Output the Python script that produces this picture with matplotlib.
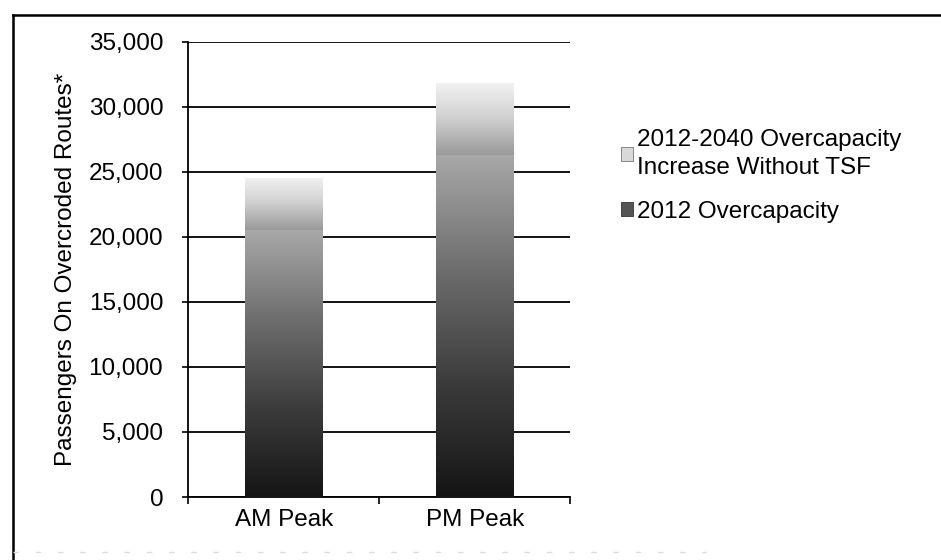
import matplotlib.pyplot as plt
import numpy as np
from matplotlib.colors import LinearSegmentedColormap
from matplotlib.lines import Line2D
from matplotlib.patches import Patch

plt.rcParams["font.family"] = ["Liberation Sans", "DejaVu Sans"]

categories = ["AM Peak", "PM Peak"]
overcapacity_2012 = [20500, 26300]
increase_2040 = [4000, 5500]
series_labels = ["2012-2040 Overcapacity\nIncrease Without TSF", "2012 Overcapacity"]
y_ticks = [0, 5000, 10000, 15000, 20000, 25000, 30000, 35000]

fig = plt.figure(figsize=(9.41, 5.6), dpi=100)
ax = fig.add_axes([0.2, 0.1125, 0.406, 0.813])

x = np.arange(len(categories))
width = 0.405

base_bars = ax.bar(x, overcapacity_2012, width, color="#3a3a3a", zorder=2)
top_bars = ax.bar(x, increase_2040, width, bottom=overcapacity_2012,
                  color="#bdbdbd", zorder=2)

# vertical gradient inside each bar segment, like the scanned original
ramp = np.linspace(0, 1, 256).reshape(-1, 1)
base_cmap = LinearSegmentedColormap.from_list("base", ["#151515", "#3c3c3c", "#6e6e6e", "#a8a8a8"])
top_cmap = LinearSegmentedColormap.from_list("top", ["#9a9a9a", "#cfcfcf", "#f2f2f2"])
for bars, cmap in [(base_bars, base_cmap), (top_bars, top_cmap)]:
    for bar in bars:
        x0, y0 = bar.get_x(), bar.get_y()
        img = ax.imshow(ramp, cmap=cmap, origin="lower", aspect="auto",
                        extent=[x0, x0 + bar.get_width(), y0, y0 + bar.get_height()],
                        zorder=3)
        img.set_clip_path(bar)

ax.set_xlim(-0.5, 1.5)
ax.set_ylim(0, 35000)
ax.set_yticks(y_ticks)
ax.set_yticklabels([f"{t:,}" for t in y_ticks], fontsize=17.5)
ax.set_xticks(x)
ax.set_xticklabels(categories, fontsize=17.5)
ax.set_xticks([-0.5, 0.5, 1.5], minor=True)
ax.tick_params(axis="x", which="major", length=0, pad=9)
ax.tick_params(axis="x", which="minor", length=5, direction="out", width=1.2)
ax.tick_params(axis="y", length=4, direction="out", width=1.2, pad=14)
ax.yaxis.grid(True, color="black", linewidth=1.3)
ax.set_axisbelow(True)
for side in ["top", "right"]:
    ax.spines[side].set_visible(False)
ax.spines["left"].set_linewidth(1.3)
ax.spines["bottom"].set_linewidth(1.3)
ax.set_ylabel("Passengers On Overcroded Routes*", fontsize=17.5, labelpad=8)

handles = [Patch(facecolor="#d8d8d8", edgecolor="#777777", linewidth=0.6),
           Patch(facecolor="#555555", edgecolor="#333333", linewidth=0.6)]
leg = fig.legend(handles, series_labels, loc="upper left", bbox_to_anchor=(0.66, 0.77),
                 frameon=False, fontsize=17.5, handlelength=0.5, handleheight=0.5,
                 handletextpad=0.15, labelspacing=0.9, borderpad=0, borderaxespad=0)
for text in leg.get_texts():
    text.set_linespacing(1.35)

# scanned page border (left and top edges, faint bottom edge)
fig.add_artist(Line2D([0.014, 0.014], [0.0, 0.973], transform=fig.transFigure,
                      color="black", linewidth=1.8))
fig.add_artist(Line2D([0.014, 1.0], [0.973, 0.973], transform=fig.transFigure,
                      color="black", linewidth=1.8))
fig.add_artist(Line2D([0.014, 0.75], [0.015, 0.015], transform=fig.transFigure,
                      color="#dddddd", linewidth=1.0, linestyle=(0, (4, 12))))

fig.savefig("out.png", dpi=100)
plt.close(fig)
